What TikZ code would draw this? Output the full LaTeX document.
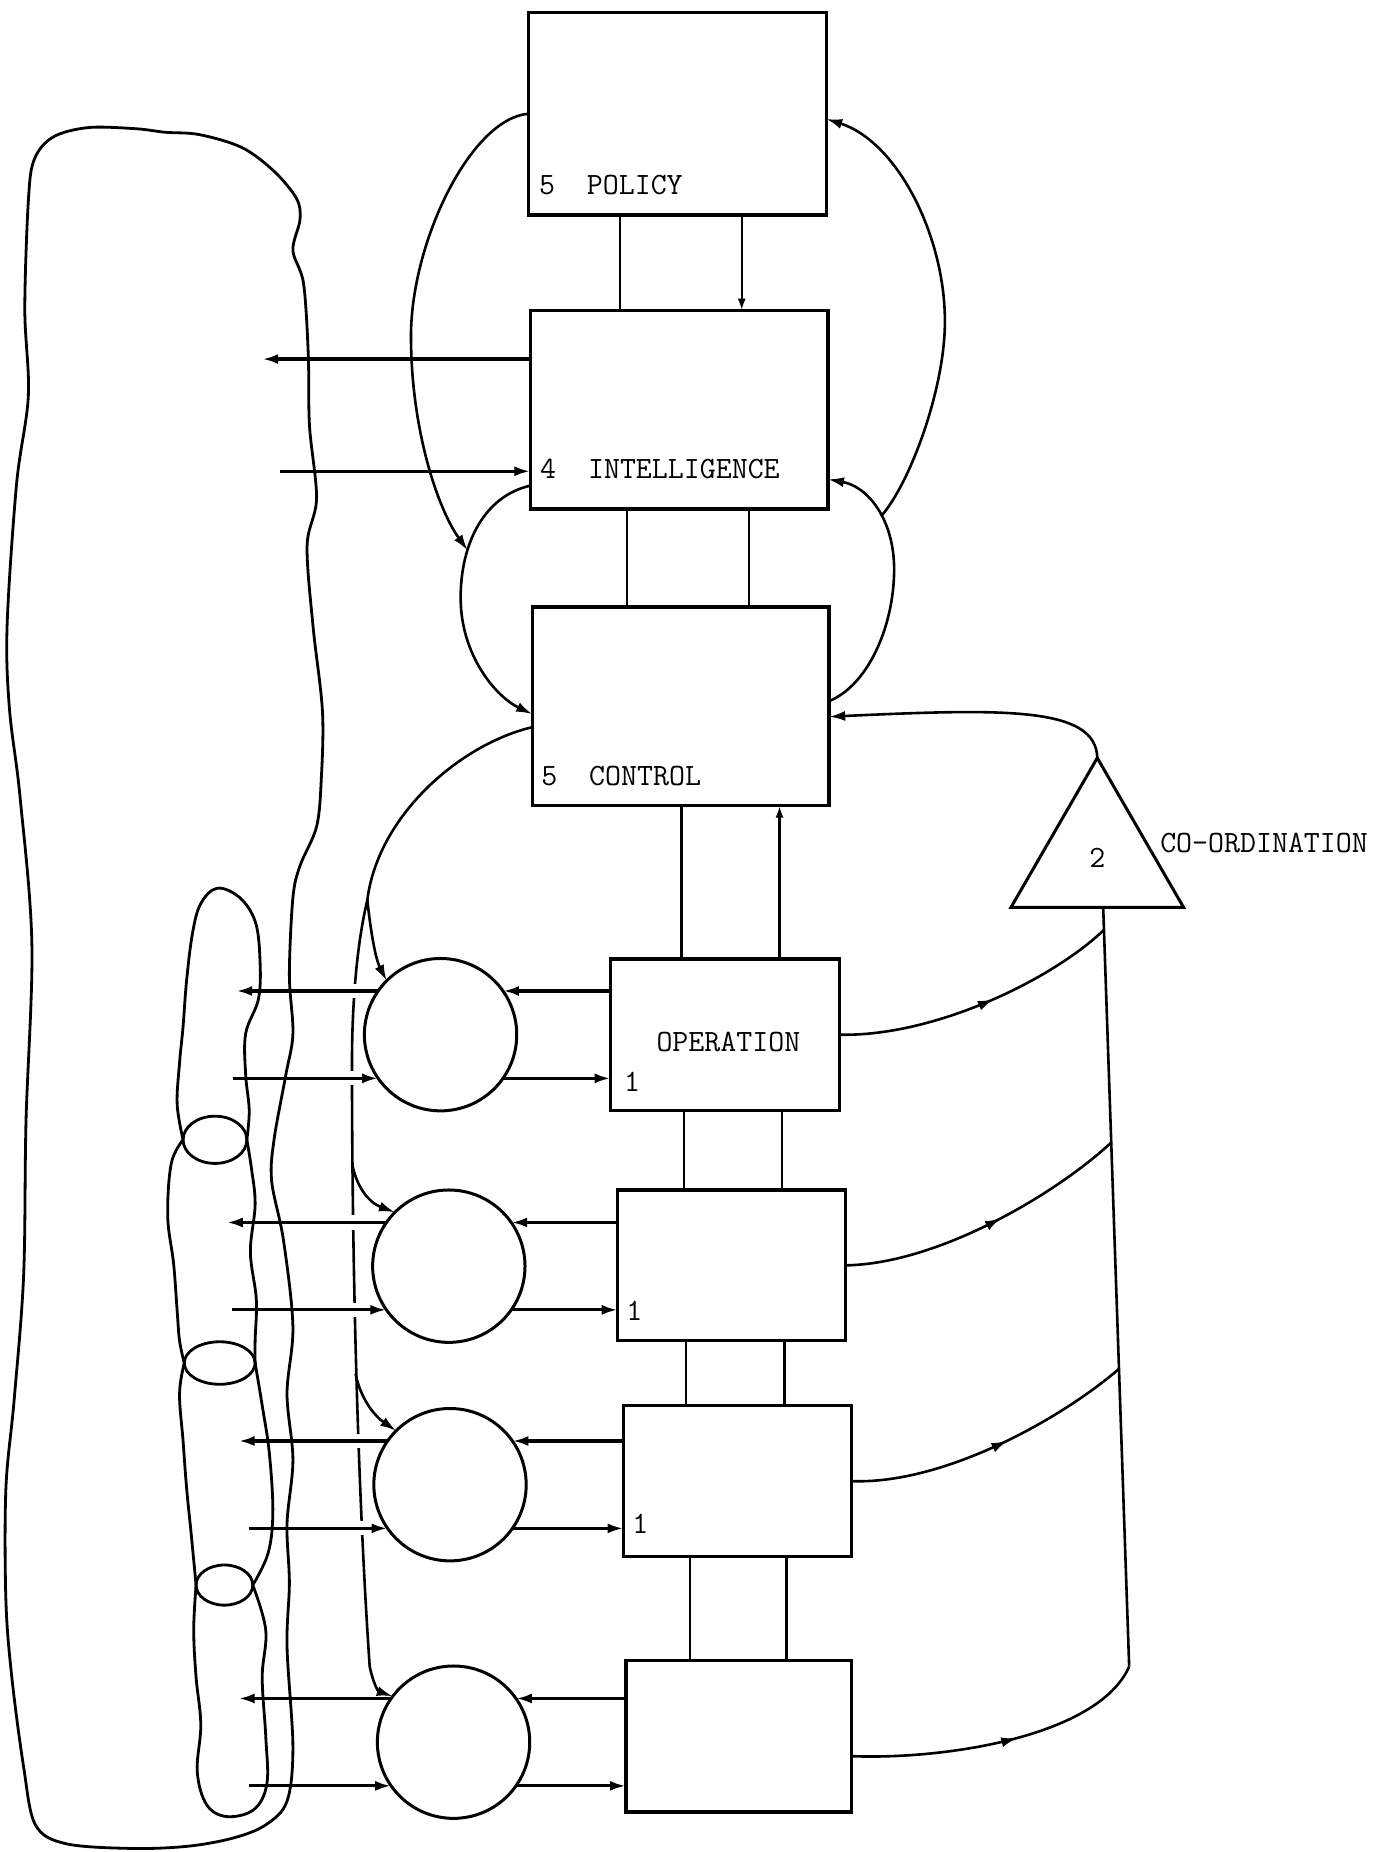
\documentclass[tikz,border=0pt]{standalone}
\usepackage{fontspec}
\usetikzlibrary{arrows.meta,shapes.geometric,decorations.markings,calc}
\tikzset{
  sbox/.style={draw,line width=1.7pt,inner sep=0pt,outer sep=0pt},
  bsz/.style 2 args={minimum width=#1*0.5905pt,minimum height=#2*0.5905pt},
  circ/.style={draw,circle,line width=1.5pt,inner sep=0pt,outer sep=0pt,minimum size=129*0.5905pt},
  jell/.style={draw,ellipse,line width=1.4pt,inner sep=0pt,outer sep=0pt},
  ttext/.style={font=\ttfamily\fontsize{15.5}{18}\selectfont\addfontfeatures{FakeBold=1},inner sep=0pt},
  lbl/.style={ttext,anchor=base west},
  crv/.style={line width=1.3pt},
  arrowend/.style={-{Latex[length=8pt,width=5pt]}},
  smallend/.style={-{Latex[length=6pt,width=4pt]}},
  harr/.style={line width=1.6pt,-{Latex[length=8pt,width=5pt]}},
  vlink/.style={line width=1.25pt},
  blob/.style={line width=1.4pt},
  midarr/.style={postaction={decorate},decoration={markings,mark=at position #1 with {\arrow{Latex[length=8pt,width=5pt]}}}}
}
\begin{document}
\begin{tikzpicture}[x=0.5905pt,y=-0.5905pt]
\useasboundingbox (0,0) rectangle (1177,1568);

% ---------- environment blobs ----------
\draw[blob] plot[smooth cycle,tension=0.55] coordinates {
 (29,135) (45,116) (75,108) (115,109) (140,112) (169,114) (205,125) (232,145) (251,168)
 (254,186) (248,212) (257,240) (261,300) (262,360) (268,422) (260,462) (265,530)
 (273,602) (272,660) (268,700) (254,733) (248,760) (245,825) (248,875) (242,910)
 (232,965) (230,1000) (240,1050) (248,1123) (243,1180) (248,1236) (243,1290)
 (245,1340) (243,1394) (248,1479) (243,1525) (225,1545) (198,1556) (160,1563)
 (113,1565) (56,1561) (30,1545) (20,1496) (10,1420) (5,1355) (5,1260) (12,1185)
 (20,1080) (22,950) (27,800) (17,675) (8,600) (6,530) (14,410) (24,335) (21,262) (24,170)};

\node[jell,minimum width=54*0.5905pt,minimum height=40*0.5905pt] (j1) at (182,965) {};
\node[jell,minimum width=60*0.5905pt,minimum height=36*0.5905pt] (j2) at (186,1154) {};
\node[jell,minimum width=48*0.5905pt,minimum height=34*0.5905pt] (j3) at (190,1342) {};

% blob 1
\draw[blob] plot[smooth,tension=0.6] coordinates {(j1.west) (150,935) (152,900) (155,869) (158,830)
 (163,790) (170,765) (184,752) (203,760) (216,780) (220,810) (219,845) (208,875) (208,910) (211,940) (j1.east)};
% blob 2
\draw[blob] plot[smooth,tension=0.6] coordinates {(j1.west) (145,985) (142,1030) (147,1070) (150,1110) (152,1135) (j2.west)};
\draw[blob] plot[smooth,tension=0.6] coordinates {(j1.east) (213,990) (216,1020) (212,1060) (217,1100) (216,1135) (j2.east)};
% blob 3
\draw[blob] plot[smooth,tension=0.6] coordinates {(j2.west) (152,1180) (155,1220) (158,1260) (162,1300) (j3.west)};
\draw[blob] plot[smooth,tension=0.6] coordinates {(j2.east) (222,1190) (228,1230) (231,1280) (227,1315) (j3.east)};
% blob 4
\draw[blob] plot[smooth,tension=0.6] coordinates {(j3.west) (164,1380) (166,1420) (170,1460) (167,1500)
 (175,1528) (192,1538) (215,1532) (226,1510) (225,1470) (222,1420) (225,1380) (j3.east)};

% ---------- boxes ----------
\node[sbox,bsz={252}{171.4}] (policy) at (573.5,96.3) {};
\node[sbox,bsz={252}{168}] (intel) at (575,347) {};
\node[sbox,bsz={251.4}{168}] (control) at (576.3,598) {};
\node[sbox,bsz={193.6}{128}] (op1) at (613.8,876) {};
\node[sbox,bsz={193}{127.5}] (op2) at (619.5,1071.3) {};
\node[sbox,bsz={193}{128}] (op3) at (624.5,1254) {};
\node[sbox,bsz={191}{128}] (op4) at (625.5,1470) {};

\node[lbl] (tpol) at (456,165) {5~~POLICY};
\node[lbl] (tint) at (457,405) {4~~INTELLIGENCE};
\node[lbl] (tctl) at (458,665) {5~~CONTROL};
\node[lbl] (top1) at (555.5,890) {OPERATION};
\node[lbl] (n1a) at (528,924) {1};
\node[lbl] (n1b) at (530,1118) {1};
\node[lbl] (n1c) at (535,1298) {1};
\node[lbl] (tco) at (982,722) {CO-ORDINATION};

\node[draw,regular polygon,regular polygon sides=3,minimum size=168.6*0.5905pt,
      inner sep=0pt,outer sep=0pt,line width=1.5pt,ttext] (coord) at (929,726) {2};

\node[circ] (c1) at (373,876) {};
\node[circ] (c2) at (380,1072) {};
\node[circ] (c3) at (381,1257) {};
\node[circ] (c4) at (384,1475) {};

% ---------- vertical links between boxes ----------
\coordinate (x525) at (525,0);  \coordinate (x628) at (628,0);
\coordinate (x531) at (531,0);  \coordinate (x634) at (634,0);
\coordinate (x577) at (577,0);  \coordinate (x660) at (660,0);
\coordinate (x579) at (579,0);  \coordinate (x662) at (662,0);
\coordinate (x581) at (581,0);  \coordinate (x664) at (664,0);
\coordinate (x584) at (584,0);  \coordinate (x666) at (666,0);
\draw[vlink] (policy.south -| x525) -- (intel.north -| x525);
\draw[vlink,smallend] (policy.south -| x628) -- (intel.north -| x628);
\draw[vlink] (intel.south -| x531) -- (control.north -| x531);
\draw[vlink] (intel.south -| x634) -- (control.north -| x634);
\draw[vlink] (op1.north -| x577) -- (control.south -| x577);
\draw[vlink,smallend] (op1.north -| x660) -- (control.south -| x660);
\draw[vlink] (op1.south -| x579) -- (op2.north -| x579);
\draw[vlink] (op1.south -| x662) -- (op2.north -| x662);
\draw[vlink] (op2.south -| x581) -- (op3.north -| x581);
\draw[vlink] (op2.south -| x664) -- (op3.north -| x664);
\draw[vlink] (op3.south -| x584) -- (op4.north -| x584);
\draw[vlink] (op3.south -| x666) -- (op4.north -| x666);

% ---------- intelligence to environment ----------
\coordinate (iu) at (222,304);
\coordinate (il) at (237,399);
\draw[harr] (intel.west |- iu) -- (iu);
\draw[harr] (il) -- (intel.west |- il);

% ---------- loops around the upper boxes ----------
\coordinate (ajoin) at (396,466);
\coordinate (dj) at (746,437);
\draw[crv,arrowend] (policy.west) .. controls (400,100) and (350,200) .. (348,280)
      .. controls (347,360) and (370,430) .. (ajoin);
\draw[crv,arrowend] (intel.207.6) .. controls (410,420) and (390,460) .. (390,506)
      .. controls (390,555) and (420,590) .. (control.183);
\draw[crv,arrowend] (control.2) .. controls (735,580) and (757,530) .. (757,482)
      .. controls (757,440) and (735,412) .. (intel.-25);
\draw[crv,arrowend] (dj) .. controls (770,410) and (800,330) .. (800,272)
      .. controls (800,200) and (760,120) .. (policy.-2);
\draw[crv,arrowend] (coord.corner 1) .. controls (928,598) and (850,600) .. (control.-4);

% ---------- control down to the operations ----------
\coordinate (brF) at (311,762);
\coordinate (b2) at (298,985);
\coordinate (b3) at (301,1163);
\draw[crv] (control.188.6) .. controls (390,630) and (320,690) .. (brF);
\draw[crv,arrowend] (brF) .. controls (314,790) and (318,812) .. (c1.135);
\draw[crv,arrowend] (brF) .. controls (302,800) and (298,850) .. (298,900)
      .. controls (298,1050) and (302,1250) .. (313,1411)
      .. controls (316,1425) and (320,1432) .. (c4.143);
\draw[crv,arrowend] (b2) .. controls (302,1005) and (312,1018) .. (c2.135);
\draw[crv,arrowend] (b3) .. controls (305,1183) and (316,1198) .. (c3.135);
\foreach \y in {839,913,1035,1109,1220,1294}{
  \fill[white] (288,\y-6) rectangle (310,\y+6);
}

% ---------- operations, circles and their environments ----------
\foreach \k/\a/\b in {1/200/197,2/192/196,3/202/211,4/202/211}{
  \coordinate (Lu\k) at (\a,0);
  \coordinate (Ll\k) at (\b,0);
  \draw[harr] (op\k.west |- c\k.35) -- (c\k.35);
  \draw[harr] (c\k.145) -- (c\k.145 -| Lu\k);
  \draw[harr] (Ll\k |- c\k.215) -- (c\k.215);
  \draw[harr] (c\k.325) -- (op\k.west |- c\k.325);
}

% ---------- co-ordination ----------
\coordinate (tb) at (934,768);
\coordinate (vb) at (956,1411);
\draw[crv] (tb) -- (vb);
\draw[crv,midarr=0.55] (op1.east) .. controls (790,878) and (890,830) .. ($(tb)!0.03!(vb)$);
\draw[crv,midarr=0.55] (op2.east) .. controls (795,1070) and (895,1010) .. ($(tb)!0.31!(vb)$);
\draw[crv,midarr=0.55] (op3.east) .. controls (800,1257) and (900,1200) .. ($(tb)!0.608!(vb)$);
\draw[crv,midarr=0.55] (op4.-10) .. controls (800,1490) and (930,1470) .. (vb);
\end{tikzpicture}
\end{document}
